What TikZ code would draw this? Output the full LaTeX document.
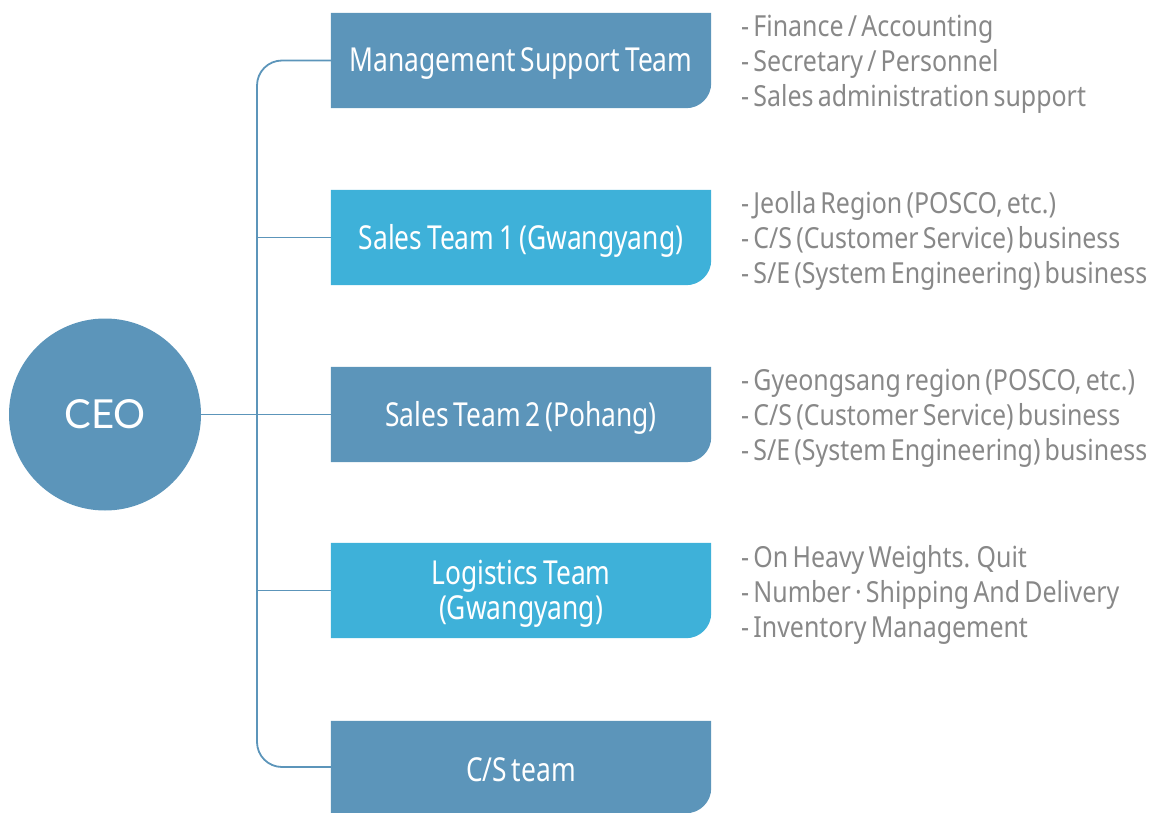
\documentclass[tikz,border=0pt]{standalone}
\usepackage{fontspec}
\setmainfont{Noto Sans}[FakeStretch=0.86]
\newfontfamily\teamfont{Noto Sans}[FakeStretch=0.80, WordSpace=0.7]
\newfontfamily\dutyfont{Noto Sans}[FakeStretch=0.86, WordSpace=0.65]
\newfontfamily\ceofont{Lato}
\usetikzlibrary{backgrounds,calc}
\definecolor{darkbox}{HTML}{5C95BA}
\definecolor{lightbox}{HTML}{3EB1D9}
\definecolor{linecol}{HTML}{5C95BA}
\definecolor{greytext}{HTML}{888888}
\tikzset{
  team/.style={minimum width=380pt, minimum height=95pt, inner sep=0pt},
  teamtext/.style={inner sep=0pt, text=white, align=center, font=\teamfont\fontsize{33}{35}\selectfont},
  duties/.style={anchor=west, inner sep=0pt, text=greytext, align=left, font=\dutyfont\fontsize{29}{35}\selectfont},
  conn/.style={draw=linecol, line width=1.8pt},
}
\newcommand\teamfill[2]{%
  \begin{scope}[on background layer]
    \fill[#2] (#1.north west) -- (#1.north east) -- ([yshift=25pt]#1.south east)
      arc[start angle=0, end angle=-90, radius=25pt] -- (#1.south west) -- cycle;
  \end{scope}}
\begin{document}
\begin{tikzpicture}[x=1pt,y=-1pt]
\useasboundingbox (0,0) rectangle (1156,813);
\node[circle, fill=darkbox, minimum size=192pt, inner sep=0pt, text=white, font=\ceofont\fontsize{40}{40}\selectfont] (ceo) at (105,414.5) {CEO};

\node[team] (b1) at (521,60.5) {};
\node[team] (b2) at (521,237.5) {};
\node[team] (b3) at (521,414.5) {};
\node[team] (b4) at (521,590.5) {};
\node[team, minimum height=92pt] (b5) at (521,767) {};
\teamfill{b1}{darkbox}
\teamfill{b2}{lightbox}
\teamfill{b3}{darkbox}
\teamfill{b4}{lightbox}
\teamfill{b5}{darkbox}
\node[teamtext] (t1) at ([yshift=-3pt]b1.center) {Management Support Team};
\node[teamtext] (t2) at ([yshift=-3pt]b2.center) {Sales Team 1 (Gwangyang)};
\node[teamtext] (t3) at ([yshift=-3pt]b3.center) {Sales Team 2 (Pohang)};
\node[teamtext] (t4) at ([yshift=-3pt]b4.center) {Logistics Team\\(Gwangyang)};
\node[teamtext] (t5) at ([yshift=-3pt]b5.center) {C/S team};

\coordinate (sp) at (257,0);
\draw[conn, rounded corners=25pt] (b1.west) -- (b1.west -| sp) -- (b5.west -| sp) -- (b5.west);
\draw[conn] (b2.west -| sp) -- (b2.west);
\draw[conn] (ceo.east) -- (b3.west);
\draw[conn] (b4.west -| sp) -- (b4.west);

\node[duties] (d1) at (741,64) {- Finance / Accounting\\- Secretary / Personnel\\- Sales administration support};
\node[duties] (d2) at (741,241) {- Jeolla Region (POSCO, etc.)\\- C/S (Customer Service) business\\- S/E (System Engineering) business};
\node[duties] (d3) at (741,418) {- Gyeongsang region (POSCO, etc.)\\- C/S (Customer Service) business\\- S/E (System Engineering) business};
\node[duties] (d4) at (741,595) {- On Heavy Weights. Quit\\- Number · Shipping And Delivery\\- Inventory Management};
\end{tikzpicture}
\end{document}
